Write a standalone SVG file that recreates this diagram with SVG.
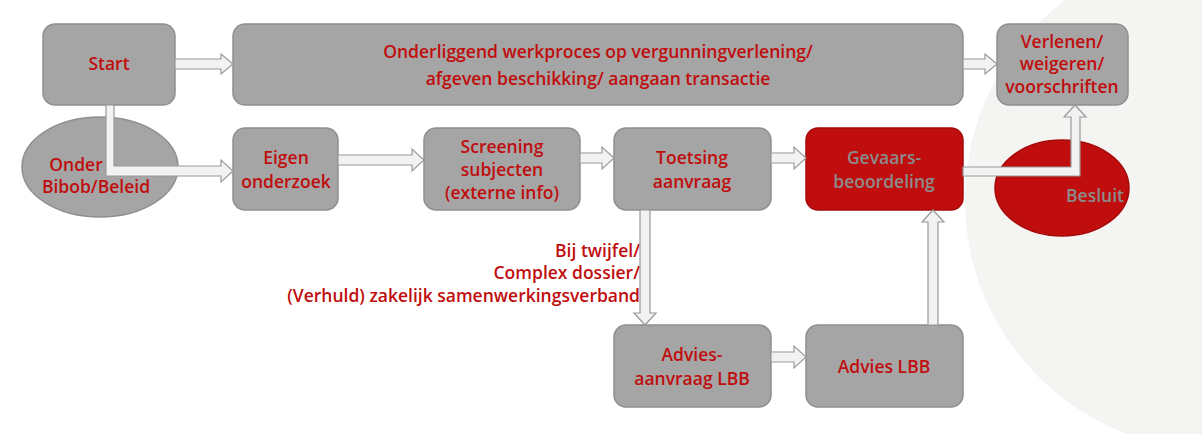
<svg xmlns="http://www.w3.org/2000/svg" width="1202" height="434" viewBox="0 0 1202 434">
<style>
.box{fill:#a5a5a5;stroke:#8f8f8f;stroke-width:1.5}
.red{fill:#c00d0d;stroke:#a50a0a;stroke-width:1.5}
.t{font-family:"Open Sans","Liberation Sans",sans-serif;font-size:17.5px;font-weight:600;fill:#c00d0d;text-anchor:middle}
.g{fill:#8c8c8c}
.arr{fill:#f2f2f2;stroke:#9a9a9a;stroke-width:1.2}
</style>
<rect width="1202" height="434" fill="#fff"/>
<circle cx="1215" cy="200" r="250" fill="#f4f4f2"/>
<g id="start"><rect class="box" x="43" y="24" width="132" height="81" rx="12"/><text class="t" x="109" y="70">Start</text></g>
<g id="werkproces"><rect class="box" x="233" y="24" width="730" height="81" rx="12"/><text class="t" x="598" y="58">Onderliggend werkproces op vergunningverlening/</text><text class="t" x="598" y="85">afgeven beschikking/ aangaan transactie</text></g>
<g id="verlenen"><rect class="box" x="997" y="24" width="131" height="81" rx="12"/><text class="t" x="1062" y="48">Verlenen/</text><text class="t" x="1062" y="70">weigeren/</text><text class="t" x="1062" y="93">voorschriften</text></g>
<g id="onder"><ellipse class="box" cx="100" cy="167" rx="78" ry="50"/><text class="t" x="76" y="171">Onder</text><text class="t" x="96" y="193">Bibob/Beleid</text></g>
<g id="eigen"><rect class="box" x="233" y="128" width="105" height="82" rx="12"/><text class="t" x="286" y="164">Eigen</text><text class="t" x="286" y="188">onderzoek</text></g>
<g id="screening"><rect class="box" x="424" y="128" width="156" height="82" rx="12"/><text class="t" x="502" y="153">Screening</text><text class="t" x="502" y="176">subjecten</text><text class="t" x="502" y="199">(externe info)</text></g>
<g id="toetsing"><rect class="box" x="614" y="128" width="157" height="82" rx="12"/><text class="t" x="692" y="164">Toetsing</text><text class="t" x="692" y="188">aanvraag</text></g>
<g id="gevaars"><rect class="red" x="806" y="128" width="157" height="82" rx="12"/><text class="t g" x="884" y="164">Gevaars-</text><text class="t g" x="884" y="188">beoordeling</text></g>
<g id="besluit"><ellipse class="red" cx="1062" cy="188" rx="67" ry="48"/><text class="t g" x="1095" y="202">Besluit</text></g>
<g id="adviesaanvraag"><rect class="box" x="614" y="325" width="157" height="82" rx="12"/><text class="t" x="692" y="361">Advies-</text><text class="t" x="692" y="385">aanvraag LBB</text></g>
<g id="adviesLBB"><rect class="box" x="806" y="325" width="157" height="82" rx="12"/><text class="t" x="884" y="373">Advies LBB</text></g>
<g id="label"><text class="t" style="text-anchor:end" x="640" y="257">Bij twijfel/</text><text class="t" style="text-anchor:end" x="640" y="279">Complex dossier/</text><text class="t" style="text-anchor:end" x="640" y="302">(Verhuld) zakelijk samenwerkingsverband</text></g>
<g id="connectors">
<polygon class="arr" points="175,59 221,59 221,54 233,64 221,74 221,69 175,69"/>
<polygon class="arr" points="963,59 985,59 985,54 997,64 985,74 985,69 963,69"/>
<polygon class="arr" points="106,105 114,105 114,166 221,166 221,160 233,171 221,182 221,176 106,176"/>
<polygon class="arr" points="338,155 412,155 412,149 424,160 412,171 412,165 338,165"/>
<polygon class="arr" points="580,153 602,153 602,147 614,158 602,169 602,163 580,163"/>
<polygon class="arr" points="771,153 794,153 794,147 806,158 794,169 794,163 771,163"/>
<polygon class="arr" points="963,167 1071,167 1071,117 1064,117 1075,105 1086,117 1080,117 1080,176 963,176"/>
<polygon class="arr" points="640,210 650,210 650,313 656,313 645,325 634,313 640,313"/>
<polygon class="arr" points="771,352 794,352 794,346 806,357 794,368 794,362 771,362"/>
<polygon class="arr" points="928,325 938,325 938,222 944,222 933,210 922,222 928,222"/>
</g>
</svg>
